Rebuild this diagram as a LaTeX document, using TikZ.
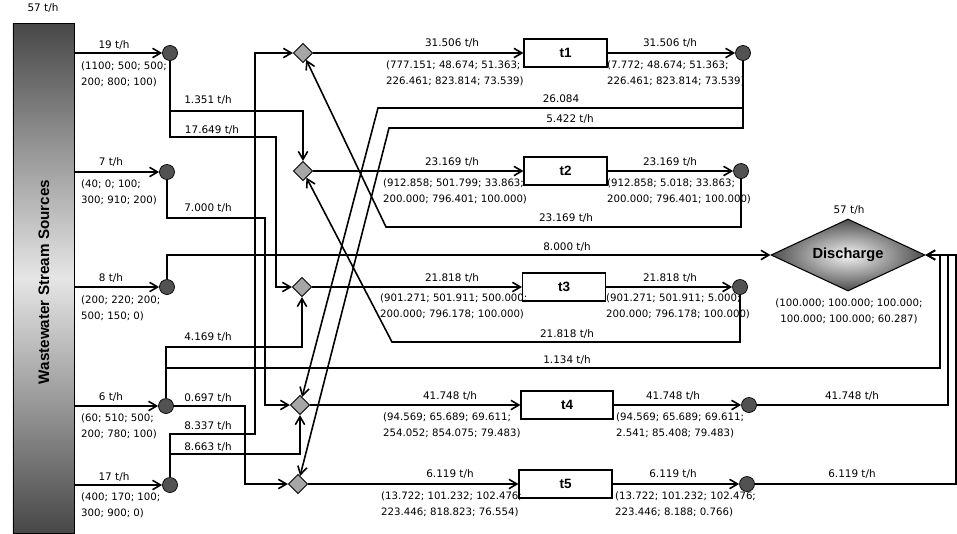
\documentclass[tikz,border=0pt]{standalone}
\usepackage{fontspec}
\setmainfont{DejaVu Sans}
\newfontfamily\arialfont{Liberation Sans}
\usetikzlibrary{shapes.geometric,arrows.meta}

\begin{document}
\begin{tikzpicture}[x=0.3mm, y=-0.3mm,
        flow/.style={draw=black, line width=1.35pt, -{Straight Barb[length=2.4mm, width=2.8mm]}},
        srcbar/.style={draw=black, line width=0.8pt, minimum width=18.3mm, minimum height=153mm, inner sep=0pt, top color=black!72, bottom color=black!72, middle color=black!10},
        split/.style={circle, draw=black, fill=black!68, minimum size=4.5mm, inner sep=0pt, line width=0.6pt},
        mixer/.style={diamond, draw=black, fill=black!35, minimum size=5.8mm, inner sep=0pt, line width=0.7pt},
        unit/.style={rectangle, draw=black, fill=white, minimum width=#1, minimum height=8.4mm, line width=0.9pt, font=\arialfont\bfseries\fontsize{11.5}{12}\selectfont},
        unit/.default=24.9mm,
        sink/.style={diamond, draw=black, line width=0.9pt, shading=radial, inner color=black!4, outer color=black!70, minimum width=46.2mm, minimum height=21.6mm, aspect=2.14, inner sep=0pt, font=\arialfont\bfseries\fontsize{12.5}{13}\selectfont},
        lbl/.style={font=\fontsize{8.9}{10}\selectfont, inner sep=0pt},
        comp/.style={font=\fontsize{8.7}{13.6}\selectfont, align=left, anchor=west, inner sep=0pt}]
    \useasboundingbox (0,0) rectangle (957,533);

    \node[srcbar] (src) at (43.5,278) {};
    \node[rotate=90, font=\arialfont\bfseries\fontsize{13}{14}\selectfont] (srcname) at (44,282) {Wastewater Stream Sources};
    \node[lbl] (ltot) at (43,8) {57 t/h};

    \node[split] (s1) at (170,53) {};
    \node[split] (s2) at (167,172) {};
    \node[split] (s3) at (167,287) {};
    \node[split] (s4) at (166,406) {};
    \node[split] (s5) at (170,485) {};

    \node[mixer] (m1) at (303,53) {};
    \node[mixer] (m2) at (303,171) {};
    \node[mixer] (m3) at (302,287) {};
    \node[mixer] (m4) at (300,405) {};
    \node[mixer] (m5) at (298,484) {};

    \node[unit] (t1) at (565.5,53) {t1};
    \node[unit] (t2) at (565.5,171) {t2};
    \node[unit] (t3) at (564,287) {t3};
    \node[unit=27.6mm] (t4) at (567,405) {t4};
    \node[unit=27.9mm] (t5) at (565.5,484) {t5};

    \node[split] (c1) at (743,53) {};
    \node[split] (c2) at (741,171) {};
    \node[split] (c3) at (740,287) {};
    \node[split] (c4) at (749,405) {};
    \node[split] (c5) at (747,484) {};

    \node[sink] (dis) at (848,255) {Discharge};
    \node[lbl] (ldis) at (849,210) {57 t/h};
    \node[comp, anchor=center, align=center] (xdis) at (849,311.5) {(100.000; 100.000; 100.000;\\100.000; 100.000; 60.287)};

    \draw[flow] (src.east |- s1) -- (s1);
    \draw[flow] (src.east |- s2) -- (s2);
    \draw[flow] (src.east |- s3) -- (s3);
    \draw[flow] (src.east |- s4) -- (s4);
    \draw[flow] (src.east |- s5) -- (s5);

    \draw[flow] (s1) -- (s1 |- 0,111) -| (m2);
    \draw[flow] (s1) -- (s1 |- 0,137) -- (276,137) |- (m3);
    \draw[flow] (s2) -- (s2 |- 0,218) -- (265,218) |- (m4);
    \draw[flow] (s3) |- (dis);
    \draw[flow] (s4) -- (s4 |- 0,347) -| (m3);
    \draw[flow] (s4) -- (s4 |- 0,368) -- (940,368) |- (dis);
    \draw[flow] (s4) -| (245,484) -- (m5);
    \draw[flow] (s5) -- (s5 |- 0,434) -- (255,434) |- (m1);
    \draw[flow] (s5) -- (s5 |- 0,454) -| (m4);

    \draw[flow] (m1) -- (t1);
    \draw[flow] (m2) -- (t2);
    \draw[flow] (m3) -- (t3);
    \draw[flow] (m4) -- (t4);
    \draw[flow] (m5) -- (t5);

    \draw[flow] (t1) -- (c1);
    \draw[flow] (t2) -- (c2);
    \draw[flow] (t3) -- (c3);
    \draw[flow] (t4) -- (c4);
    \draw[flow] (t5) -- (c5);

    \draw[flow] (c1) -- (c1 |- 0,108) -- (378,108) -- (m4);
    \draw[flow] (c1) -- (c1 |- 0,128) -- (389,128) -- (m5);
    \draw[flow] (c2) -- (c2 |- 0,227) -- (386,227) -- (m1);
    \draw[flow] (c3) -- (c3 |- 0,342) -- (392,342) -- (m2);
    \draw[flow] (c4) -- (c4 -| 948,0) |- (dis);
    \draw[flow] (c5) -- (c5 -| 956,0) |- (dis);

    \node[lbl] (ls1) at (114,45) {19 t/h};
    \node[lbl] (ls2) at (111,162) {7 t/h};
    \node[lbl] (ls3) at (111,278) {8 t/h};
    \node[lbl] (ls4) at (111,397) {6 t/h};
    \node[lbl] (ls5) at (114,477) {17 t/h};
    \node[comp] (xs1) at (81,74) {(1100; 500; 500;\\200; 800; 100)};
    \node[comp] (xs2) at (81,192.5) {(40; 0; 100;\\300; 910; 200)};
    \node[comp] (xs3) at (81,308) {(200; 220; 200;\\500; 150; 0)};
    \node[comp] (xs4) at (81,426) {(60; 510; 500;\\200; 780; 100)};
    \node[comp] (xs5) at (81,505.5) {(400; 170; 100;\\300; 900; 0)};

    \node[lbl] (lb1) at (208,100) {1.351 t/h};
    \node[lbl] (lb2) at (212,130) {17.649 t/h};
    \node[lbl] (lb3) at (208,208) {7.000 t/h};
    \node[lbl] (lb4) at (208,337) {4.169 t/h};
    \node[lbl] (lb5) at (208,398) {0.697 t/h};
    \node[lbl] (lb6) at (208,426) {8.337 t/h};
    \node[lbl] (lb7) at (208,447) {8.663 t/h};

    \node[lbl] (lm1) at (452,43) {31.506 t/h};
    \node[lbl] (lm2) at (452,162) {23.169 t/h};
    \node[lbl] (lm3) at (452,278) {21.818 t/h};
    \node[lbl] (lm4) at (450,396) {41.748 t/h};
    \node[lbl] (lm5) at (450,474) {6.119 t/h};
    \node[comp] (xm1) at (386,73.5) {(777.151; 48.674; 51.363;\\226.461; 823.814; 73.539)};
    \node[comp] (xm2) at (383,191.5) {(912.858; 501.799; 33.863;\\200.000; 796.401; 100.000)};
    \node[comp] (xm3) at (380,306.5) {(901.271; 501.911; 500.000;\\200.000; 796.178; 100.000)};
    \node[comp] (xm4) at (383,425.5) {(94.569; 65.689; 69.611;\\254.052; 854.075; 79.483)};
    \node[comp] (xm5) at (381,504.5) {(13.722; 101.232; 102.476;\\223.446; 818.823; 76.554)};

    \node[lbl] (lt1) at (670,43) {31.506 t/h};
    \node[lbl] (lt2) at (670,162) {23.169 t/h};
    \node[lbl] (lt3) at (670,278) {21.818 t/h};
    \node[lbl] (lt4) at (673,396) {41.748 t/h};
    \node[lbl] (lt5) at (673,474) {6.119 t/h};
    \node[comp] (xt1) at (607,73.5) {(7.772; 48.674; 51.363;\\226.461; 823.814; 73.539)};
    \node[comp] (xt2) at (607,191.5) {(912.858; 5.018; 33.863;\\200.000; 796.401; 100.000)};
    \node[comp] (xt3) at (606,306.5) {(901.271; 501.911; 5.000;\\200.000; 796.178; 100.000)};
    \node[comp] (xt4) at (616,425.5) {(94.569; 65.689; 69.611;\\2.541; 85.408; 79.483)};
    \node[comp] (xt5) at (615,504.5) {(13.722; 101.232; 102.476;\\223.446; 8.188; 0.766)};

    \node[lbl] (lr1) at (561,99) {26.084};
    \node[lbl] (lr2) at (570,119) {5.422 t/h};
    \node[lbl] (lr3) at (566,218) {23.169 t/h};
    \node[lbl] (lr4) at (567,247) {8.000 t/h};
    \node[lbl] (lr5) at (567,334) {21.818 t/h};
    \node[lbl] (lr6) at (567,360) {1.134 t/h};
    \node[lbl] (lc4) at (852,396) {41.748 t/h};
    \node[lbl] (lc5) at (852,474) {6.119 t/h};
\end{tikzpicture}
\end{document}
